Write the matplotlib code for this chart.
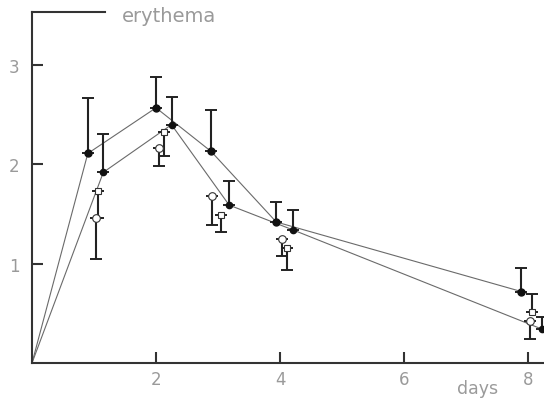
import matplotlib
matplotlib.use("Agg")
import matplotlib.pyplot as plt
import numpy as np

# filled circles, upper line (error bars upward)
a_days = [0.90, 2.00, 2.89, 3.94, 7.89]
a_vals = [2.11, 2.57, 2.13, 1.42, 0.72]
a_tops = [2.67, 2.88, 2.55, 1.62, 0.96]

# filled markers, lower line (error bars upward)
b_days = [1.15, 2.25, 3.18, 4.21, 8.23]
b_vals = [1.92, 2.40, 1.59, 1.34, 0.34]
b_tops = [2.31, 2.68, 1.83, 1.54, 0.46]

# open circles (error bars downward)
c_days = [1.03, 2.05, 2.90, 4.03, 8.03]
c_vals = [1.46, 2.17, 1.68, 1.25, 0.42]
c_ends = [1.05, 1.98, 1.39, 1.08, 0.24]

# open squares (error bars down, last one up)
s_days = [1.07, 2.13, 3.05, 4.11, 8.06]
s_vals = [1.73, 2.33, 1.49, 1.16, 0.51]
s_ends = [1.46, 2.08, 1.32, 0.94, 0.69]

x_ticks = [2, 4, 6, 8]
y_ticks = [1, 2, 3]

line_col = "#6a6a6a"
bar_col = "#222222"
text_col = "#9a9a9a"


def err(vals, ends):
    vals = np.array(vals)
    ends = np.array(ends)
    lo = np.where(ends < vals, vals - ends, 0)
    hi = np.where(ends > vals, ends - vals, 0)
    return [lo, hi]


fig = plt.figure(figsize=(5.44, 4.06), dpi=100)
ax = fig.add_axes([32 / 544, 42 / 406, 512 / 544, 351 / 406])
ax.set_xlim(0, 512 / 62)
ax.set_ylim(0, 351 / 99.3)

# connecting lines start at the origin
ax.plot([0] + a_days, [0] + a_vals, color=line_col, lw=0.8, zorder=2)
ax.plot([0] + b_days, [0] + b_vals, color=line_col, lw=0.8, zorder=2)

eb = dict(fmt="none", ecolor=bar_col, elinewidth=1.5, capsize=4, capthick=1.4, zorder=3)
ax.errorbar(a_days, a_vals, yerr=err(a_vals, a_tops), **eb)
ax.errorbar(b_days, b_vals, yerr=err(b_vals, b_tops), **eb)
ax.errorbar(c_days, c_vals, yerr=err(c_vals, c_ends), **eb)
ax.errorbar(s_days, s_vals, yerr=err(s_vals, s_ends), **eb)

ax.plot(a_days, a_vals, "o", color="#111111", ms=5, zorder=4, clip_on=False)
ax.plot(b_days, b_vals, "o", color="#111111", ms=4.5, zorder=4, clip_on=False)
ax.plot(c_days, c_vals, "o", mfc="white", mec="#333333", mew=0.8, ms=5.5, zorder=4)
ax.plot(s_days, s_vals, "s", mfc="white", mec="#333333", mew=0.8, ms=5, zorder=4)

ax.spines["right"].set_visible(False)
ax.spines["top"].set_bounds(0, 73 / 62)
for side in ["left", "bottom", "top"]:
    ax.spines[side].set_linewidth(1.5)
    ax.spines[side].set_color("#333333")

ax.set_xticks(x_ticks)
ax.set_yticks(y_ticks)
ax.tick_params(axis="both", direction="in", length=8, width=1.5, color="#333333",
               labelcolor=text_col, labelsize=12)
ax.tick_params(axis="y", pad=9)
ax.tick_params(axis="x", pad=5)

ax.text(90 / 62, 348 / 99.3, "erythema", color=text_col, fontsize=14,
        ha="left", va="center", clip_on=False)
ax.text(446 / 62, -0.072, "days", transform=ax.get_xaxis_transform(),
        color=text_col, fontsize=12.5, ha="center", va="center")

fig.savefig("out.png", dpi=100)
